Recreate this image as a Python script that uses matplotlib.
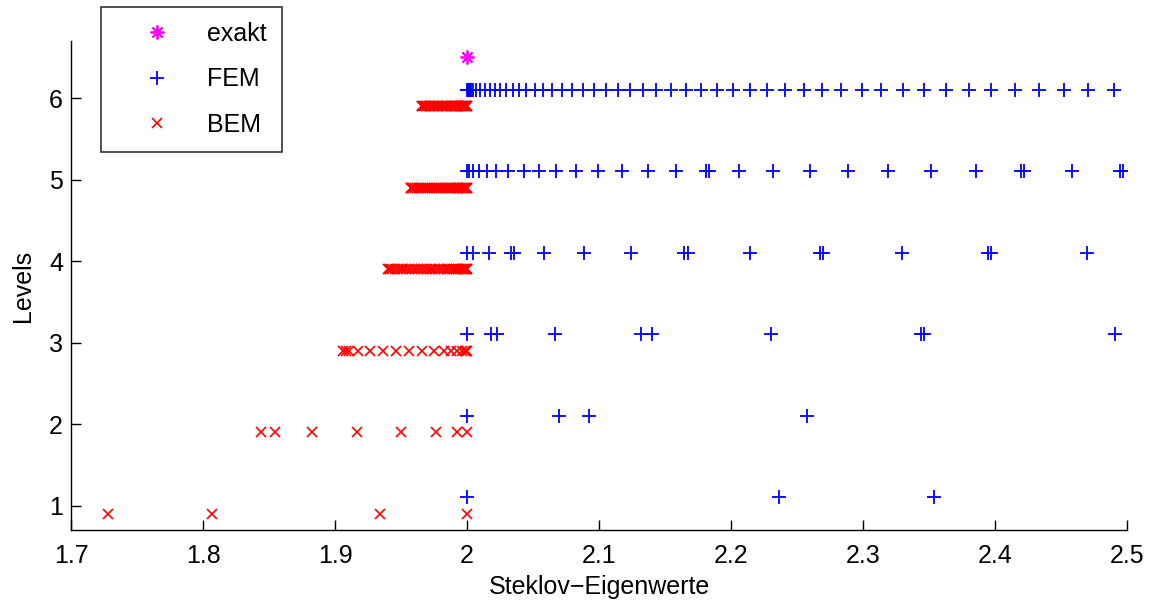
import matplotlib
matplotlib.use("Agg")
import matplotlib.pyplot as plt

plt.rcParams['font.family'] = ['Liberation Sans', 'DejaVu Sans']

# eigenvalue approximations per refinement level
levels = [1, 2, 3, 4, 5, 6]

fem_vals = [
    [2.0, 2.2364, 2.354],
    [2.0, 2.0695, 2.0922, 2.258],
    [2.0, 2.0185, 2.0227, 2.0664, 2.1321, 2.1402, 2.2306, 2.3437, 2.3467, 2.4915],
    [2.0, 2.0045, 2.0167, 2.0331, 2.0354, 2.0581, 2.0884, 2.124, 2.1642, 2.1672,
     2.2142, 2.2672, 2.2695, 2.3295, 2.3952, 2.3975, 2.4697],
    [2.0, 2.0013, 2.0045, 2.0088, 2.0152, 2.0223, 2.0311, 2.043, 2.0542, 2.0677,
     2.0829, 2.0992, 2.1177, 2.1374, 2.1586, 2.1808, 2.1831, 2.2058, 2.2316,
     2.2596, 2.2886, 2.3192, 2.3518, 2.3859, 2.4195, 2.4218, 2.4583, 2.4952, 2.4975],
    [2.0, 2.0005, 2.0013, 2.0020, 2.0028, 2.0045, 2.0071, 2.0096, 2.0134, 2.0172,
     2.0210, 2.0253, 2.0298, 2.0348, 2.0394, 2.0450, 2.0513, 2.0576, 2.0647,
     2.0720, 2.0795, 2.0879, 2.0960, 2.1051, 2.1144, 2.1238, 2.1333, 2.1435,
     2.1548, 2.1657, 2.1776, 2.1894, 2.2015, 2.2142, 2.2276, 2.2409, 2.2551,
     2.2689, 2.2836, 2.2990, 2.3139, 2.3301, 2.3465, 2.3632, 2.3801, 2.3975,
     2.4155, 2.4333, 2.4523, 2.4710, 2.4907],
]

bem_vals = [
    [1.7276, 1.8064, 1.9339, 2.0],
    [1.8435, 1.8545, 1.8824, 1.9166, 1.9503, 1.9763, 1.9924, 2.0],
    [1.9058, 1.9081, 1.9104, 1.9172, 1.9268, 1.9364, 1.9462, 1.9561, 1.9655,
     1.9746, 1.9824, 1.9880, 1.9926, 1.9960, 1.9982, 1.9994, 2.0],
    [1.9403, 1.9408, 1.9415, 1.9430, 1.9452, 1.9474, 1.9496, 1.9518, 1.9540,
     1.9562, 1.9584, 1.9606, 1.9628, 1.9650, 1.9672, 1.9694, 1.9716, 1.9738,
     1.9760, 1.9782, 1.9804, 1.9826, 1.9846, 1.9866, 1.9884, 1.9902, 1.9918,
     1.9933, 1.9946, 1.9958, 1.9968, 1.9977, 1.9985, 1.9991, 1.9996, 1.9999],
    [1.9573, 1.9577, 1.9583, 1.9594, 1.9608, 1.9622, 1.9636, 1.9650, 1.9664,
     1.9678, 1.9692, 1.9706, 1.9720, 1.9734, 1.9748, 1.9762, 1.9776, 1.9790,
     1.9804, 1.9818, 1.9832, 1.9845, 1.9858, 1.9870, 1.9882, 1.9893, 1.9904,
     1.9914, 1.9924, 1.9933, 1.9942, 1.9950, 1.9958, 1.9965, 1.9972, 1.9978,
     1.9984, 1.9989, 1.9993, 1.9997, 1.9999],
    [1.9655, 1.9658, 1.9662, 1.9670, 1.9680, 1.9690, 1.9700, 1.9710, 1.9720,
     1.9730, 1.9740, 1.9750, 1.9760, 1.9770, 1.9780, 1.9790, 1.9800, 1.9810,
     1.9820, 1.9830, 1.9840, 1.9849, 1.9858, 1.9867, 1.9876, 1.9885, 1.9893,
     1.9901, 1.9909, 1.9917, 1.9924, 1.9931, 1.9938, 1.9945, 1.9951, 1.9957,
     1.9963, 1.9968, 1.9973, 1.9978, 1.9983, 1.9987, 1.9991, 1.9994, 1.9997,
     1.9999],
]

exact_x = [2.0]
exact_y = [6.5]

xticks = [1.7, 1.8, 1.9, 2.0, 2.1, 2.2, 2.3, 2.4, 2.5]
xticklabels = ['1.7', '1.8', '1.9', '2', '2.1', '2.2', '2.3', '2.4', '2.5']
yticks = [1, 2, 3, 4, 5, 6]

shift = 0.1  # FEM drawn slightly above, BEM slightly below the level

fig = plt.figure(figsize=(11.53, 6.03), dpi=100)
ax = fig.add_axes([0.0618, 0.1211, 0.9154, 0.8109])

fem_x, fem_y, bem_x, bem_y = [], [], [], []
for lev, fv, bv in zip(levels, fem_vals, bem_vals):
    fem_x += fv
    fem_y += [lev + shift] * len(fv)
    bem_x += bv
    bem_y += [lev - shift] * len(bv)

ax.plot(exact_x, exact_y, linestyle='none', marker=(8, 2, 0), ms=10, mew=1.3,
        color=(1, 0, 1), label='exakt')
ax.plot(fem_x, fem_y, linestyle='none', marker='+', ms=10.5, mew=1.3,
        color=(0, 0, 1), label='FEM')
ax.plot(bem_x, bem_y, linestyle='none', marker='x', ms=7.2, mew=1.2,
        color=(1, 0, 0), label='BEM')

ax.set_xlim(1.7, 2.5)
ax.set_ylim(0.7, 6.7)
ax.set_xticks(xticks)
ax.set_xticklabels(xticklabels)
ax.set_yticks(yticks)
ax.tick_params(direction='in', length=7, width=1, labelsize=18, colors='black')
ax.tick_params(axis='x', pad=10)
ax.tick_params(axis='y', pad=6)
for side in ['top', 'right']:
    ax.spines[side].set_visible(False)
for side in ['left', 'bottom']:
    ax.spines[side].set_linewidth(1)

ax.set_xlabel('Steklov\u2212Eigenwerte', fontsize=18, labelpad=5)
ax.set_ylabel('Levels', fontsize=18, labelpad=10)

leg = ax.legend(loc='upper left', bbox_to_anchor=(101 / 1153, 1 - 7 / 603),
                bbox_transform=fig.transFigure, fontsize=18, frameon=True,
                fancybox=False, borderaxespad=0, borderpad=0.6,
                handlelength=3.3, handletextpad=0.35, labelspacing=0.85)
leg.get_frame().set_edgecolor('black')
leg.get_frame().set_linewidth(1.2)

fig.savefig('out.png', dpi=100)
